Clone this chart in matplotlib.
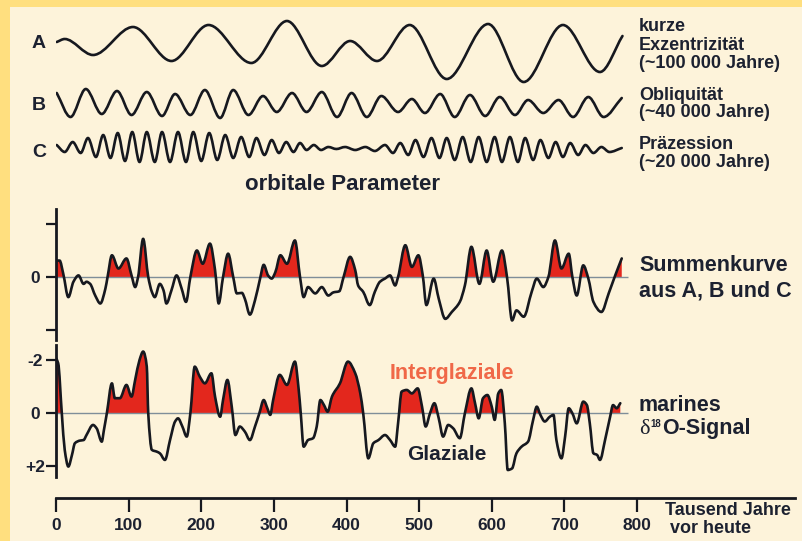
import numpy as np
import matplotlib
matplotlib.use("Agg")
import matplotlib.pyplot as plt
from matplotlib.path import Path
from matplotlib.patches import PathPatch, Rectangle

plt.rcParams['font.family'] = ['Liberation Sans', 'DejaVu Sans']
plt.rcParams['font.weight'] = 'bold'

# ---- data (x in thousand years before present) ----
# A: short eccentricity (turning points)
a_kyr = [1, 12, 51, 106, 159, 210, 269, 318, 366, 405, 442, 487, 538, 595, 644, 698, 749, 780]
a_val = [3, 6, -10, 18, -16, 20, -18, 24, -21, 4, -16, 20, -34, 21, -37, 20, -27, 9]

# B: obliquity
b_kyr = [1, 20, 41, 63, 84, 104, 125, 146, 164, 185,
         205, 226, 244, 265, 285, 304, 325, 345, 366, 387,
         407, 428, 448, 471, 490, 508, 529, 549, 570, 591,
         611, 632, 650, 671, 692, 712, 733, 754, 779]
b_val = [11, -13, 15, -10, 13, -11, 12, -12, 10, -11,
         14, -14, 14, -11, 8, -8, 11, -8, 12, -13,
         11, -13, 8, -8, 5, -9, 10, -13, 9, -12,
         7, -11, 4, -9, 4, -13, 7, -13, 6]

# C: precession
c_kyr = [1, 12, 23, 34, 44, 55, 65, 75, 85, 95,
         105, 115, 125, 136, 146, 157, 168, 179, 189, 200,
         211, 222, 233, 244, 255, 266, 276, 287, 297, 307,
         317, 327, 336, 345, 355, 365, 375, 386, 398, 412,
         426, 439, 453, 464, 474, 485, 495, 506, 517, 528,
         538, 549, 560, 571, 582, 593, 604, 614, 625, 636,
         646, 657, 667, 678, 688, 698, 708, 719, 729, 740,
         751, 762, 779]
c_val = [3, -4, 6, -5, 10, -9, 13, -10, 15, -13,
         16, -14, 16, -14, 16, -14, 16, -14, 16, -13,
         15, -12, 13, -10, 11, -9, 10, -7, 8, -5,
         6, -4, 5, -2, 3, -2, 1, -1, 1, -2,
         1, -3, 3, -5, 5, -7, 8, -9, 10, -10,
         10, -12, 11, -14, 11, -14, 11, -14, 11, -14,
         10, -12, 8, -10, 6, -9, 5, -7, 3, -5,
         1, -4, 0]

# Summenkurve aus A, B und C
s_kyr = [0, 5, 10, 17, 24, 31, 38, 42, 47, 54,
         61, 68, 71, 77, 86, 97, 104, 109, 113, 120,
         127, 132, 136, 143, 148, 152, 159, 166, 173, 179,
         185, 194, 202, 212, 219, 224, 230, 237, 244, 249,
         256, 260, 267, 274, 281, 286, 292, 297, 302, 309,
         318, 329, 336, 341, 347, 357, 366, 375, 382, 390,
         396, 405, 412, 416, 423, 432, 439, 446, 453, 460,
         467, 471, 481, 490, 499, 505, 510, 520, 527, 536,
         545, 556, 563, 572, 583, 593, 602, 614, 621, 628,
         634, 644, 655, 662, 671, 678, 687, 696, 706, 711,
         717, 726, 733, 740, 751, 761, 770, 779]
s_val = [0.31, 0.31, 0.06, -0.38, -0.09, 0.03, -0.13, -0.09, -0.13, -0.35,
         -0.50, -0.22, 0, 0.41, 0.16, 0.35, 0.03, -0.19, 0, 0.72,
         0, -0.28, -0.38, -0.13, -0.25, -0.50, -0.25, 0.03, -0.22, -0.47,
         0, 0.50, 0.25, 0.63, 0.13, -0.50, 0, 0.44, 0, -0.31,
         -0.30, -0.41, -0.71, -0.44, -0.03, 0.23, 0.03, -0.03, 0.09, 0.41,
         0.25, 0.69, 0, -0.38, -0.19, -0.31, -0.19, -0.35, -0.29, -0.27,
         0, 0.38, 0.13, -0.16, -0.28, -0.53, -0.28, -0.09, -0.03, 0.03,
         -0.16, 0, 0.60, 0.19, 0.41, 0.03, -0.53, -0.03, -0.41, -0.79,
         -0.66, -0.47, -0.16, 0.57, -0.13, 0.50, -0.09, 0.50, 0, -0.82,
         -0.63, -0.75, -0.28, -0.03, -0.19, 0, 0.69, 0.16, 0.44, 0,
         -0.35, 0.22, -0.03, -0.47, -0.66, -0.31, 0.03, 0.35]

# marines d18O-Signal (negative = warm / Interglaziale)
d_kyr = [0, 3, 8, 12, 17, 22, 26, 33, 38, 42,
         51, 56, 63, 66, 70, 77, 81, 88, 97, 104,
         109, 115, 120, 125, 127, 132, 139, 143, 150, 157,
         164, 168, 174, 180, 185, 191, 198, 205, 214, 219,
         226, 230, 236, 242, 247, 253, 260, 267, 274, 280,
         286, 291, 295, 299, 308, 318, 329, 334, 337, 341,
         347, 354, 359, 364, 369, 374, 380, 391, 402, 412,
         419, 423, 430, 437, 444, 453, 460, 467, 471, 476,
         483, 490, 498, 504, 509, 515, 521, 527, 533, 540,
         547, 556, 563, 572, 577, 582, 588, 594, 600, 604,
         609, 613, 618, 622, 628, 634, 641, 650, 657, 662,
         667, 673, 680, 685, 689, 696, 701, 706, 711, 717,
         726, 731, 735, 740, 745, 749, 756, 763, 767, 772,
         777]
d_val = [-2.08, -1.89, 0, 1.38, 2.01, 1.57, 1.13, 1.03, 1.01, 0.82,
         0.44, 0.57, 1.07, 0.63, 0, -1.13, -0.57, -0.57, -1.07, -0.63,
         -1.26, -2.01, -2.33, -1.76, 0, 1.38, 1.45, 1.51, 1.76, 1.01,
         0.31, 0.19, 0.50, 0.88, 0, -1.76, -1.38, -1.13, -1.51, -0.63,
         0.13, -0.50, -1.26, -0.25, 0.82, 0.50, 0.69, 1.01, 0.50, 0,
         -0.50, -0.19, 0.06, -0.50, -1.45, -1.07, -1.95, -0.94, 0, 1.26,
         1.01, 0.94, 0.50, -0.50, -0.31, -0.06, -0.63, -1.13, -1.95, -1.51,
         -0.75, 0, 1.70, 1.13, 1.01, 0.82, 1.01, 1.26, 0.38, -0.82,
         -0.88, -0.75, -0.94, -0.25, 0.50, 0, -0.38, 0.19, 0.88, 0.44,
         0.57, 0.94, 0, -0.94, -0.38, 0.19, -0.57, -0.69, -0.25, 0.25,
         -0.75, -0.88, 0.38, 2.14, 2.08, 1.51, 1.26, 1.07, 0.25, -0.25,
         0.06, 0.31, 0.13, 0.06, 1.01, 1.70, 0.88, -0.19, 0, 0.38,
         -0.44, -0.31, 0.38, 1.51, 1.57, 1.76, 1.01, 0.13, -0.31, -0.19,
         -0.38]

x_ticks = [0, 100, 200, 300, 400, 500, 600, 700, 800]
mid_ticks = [-1, 0, 1]
mid_tick_labels = ['', '0', '']
bot_ticks = [-2, 0, 2]
bot_tick_labels = ['-2', '0', '+2']
zero_end = 787

# ---- layout / colours ----
W, H = 802, 541
ink = '#16181f'
txt = '#1c2130'
red = '#e3271d'
zero_col = '#7f8e99'
cream = '#fdf3da'
yellow = '#ffdf7f'
x_max = 800 * (795 - 56) / (637 - 56)


def px_rect(x0, y0, x1, y1):
    return [x0 / W, 1 - y1 / H, (x1 - x0) / W, (y1 - y0) / H]


def smooth_path(xs, ys, close_to=None):
    # monotone cubic through the read points, drawn as bezier segments
    x = np.asarray(xs, float)
    y = np.asarray(ys, float)
    h = np.diff(x)
    d = np.diff(y) / h
    m = np.zeros_like(y)
    m[0], m[-1] = d[0], d[-1]
    for k in range(1, len(x) - 1):
        if d[k - 1] * d[k] > 0:
            w1 = 2 * h[k] + h[k - 1]
            w2 = h[k] + 2 * h[k - 1]
            m[k] = (w1 + w2) / (w1 / d[k - 1] + w2 / d[k])
    verts = [(x[0], y[0])]
    codes = [Path.MOVETO]
    for k in range(len(x) - 1):
        verts += [(x[k] + h[k] / 3, y[k] + m[k] * h[k] / 3),
                  (x[k + 1] - h[k] / 3, y[k + 1] - m[k + 1] * h[k] / 3),
                  (x[k + 1], y[k + 1])]
        codes += [Path.CURVE4] * 3
    if close_to is not None:
        verts += [(x[-1], close_to), (x[0], close_to), (x[0], y[0])]
        codes += [Path.LINETO, Path.LINETO, Path.CLOSEPOLY]
    return Path(verts, codes)


def draw_curve(ax, x, y, lw=1.9):
    ax.add_patch(PathPatch(smooth_path(x, y), facecolor='none', edgecolor=ink,
                           lw=lw, joinstyle='round', capstyle='round', zorder=3))


def fill_warm(ax, x, y, lo, hi):
    # red only on the warm side of the zero line
    patch = PathPatch(smooth_path(x, y, close_to=0), facecolor=red,
                      edgecolor='none', zorder=1)
    ax.add_patch(patch)
    patch.set_clip_path(Rectangle((0, lo), x_max, hi - lo, transform=ax.transData))


def label(x, y, s, size=13, **kw):
    kw.setdefault('color', txt)
    fig.text(x / W, 1 - y / H, s, fontsize=size, va='baseline', ha='left', **kw)


fig = plt.figure(figsize=(W / 100, H / 100), dpi=100, facecolor=yellow)
fig.add_artist(Rectangle((10 / W, 0), 1, 1 - 7 / H, transform=fig.transFigure,
                         facecolor=cream, edgecolor='none', zorder=0))

# ---- orbital parameters ----
ax_top = fig.add_axes(px_rect(56, 8, 795, 200))
ax_top.set_xlim(0, x_max)
ax_top.set_ylim(0, 192)
ax_top.axis('off')
draw_curve(ax_top, a_kyr, np.array(a_val) + 155)
draw_curve(ax_top, b_kyr, np.array(b_val) + 96)
draw_curve(ax_top, c_kyr, np.array(c_val) + 52)

# ---- Summenkurve ----
ax_mid = fig.add_axes(px_rect(56, 209, 795, 340))
ax_mid.set_xlim(0, x_max)
ax_mid.set_ylim(-1.189, 1.283)
fill_warm(ax_mid, s_kyr, s_val, 0, 2)
ax_mid.hlines(0, 0, zero_end, color=zero_col, lw=1, zorder=2)
draw_curve(ax_mid, s_kyr, s_val)

# ---- d18O (axis inverted: warm is up) ----
ax_bot = fig.add_axes(px_rect(56, 345, 795, 477))
ax_bot.set_xlim(0, x_max)
ax_bot.set_ylim(2.404, -2.577)
fill_warm(ax_bot, d_kyr, d_val, -3, 0)
ax_bot.hlines(0, 0, zero_end, color=zero_col, lw=1, zorder=2)
draw_curve(ax_bot, d_kyr, d_val)

for ax in (ax_mid, ax_bot):
    ax.set_facecolor('none')
    ax.spines['top'].set_visible(False)
    ax.spines['right'].set_visible(False)
    ax.spines['left'].set_linewidth(2)
    ax.spines['left'].set_color(ink)
    ax.tick_params(axis='y', length=7, width=1.6, color=ink, labelsize=12.5,
                   labelcolor=txt, pad=8)

ax_mid.spines['bottom'].set_visible(False)
ax_mid.set_xticks([])
ax_mid.set_yticks(mid_ticks)
ax_mid.set_yticklabels(mid_tick_labels)

ax_bot.set_yticks(bot_ticks)
ax_bot.set_yticklabels(bot_tick_labels)
ax_bot.spines['bottom'].set_position(('outward', 15))
ax_bot.spines['bottom'].set_linewidth(2)
ax_bot.spines['bottom'].set_color(ink)
ax_bot.set_xticks(x_ticks)
ax_bot.tick_params(axis='x', length=10, width=1.6, color=ink, labelsize=12.5,
                   labelcolor=txt, pad=4.5)

for ax in (ax_mid, ax_bot):
    for lab in ax.get_yticklabels():
        lab.set_horizontalalignment('center')

# ---- texts ----
label(32, 48, 'A', 14)
label(32, 110, 'B', 14)
label(32, 157, 'C', 14)
label(639, 31, 'kurze')
label(639, 50, 'Exzentrizität')
label(639, 68, '(~100 000 Jahre)')
label(639, 100, 'Obliquität')
label(639, 117, '(~40 000 Jahre)')
label(639, 149, 'Präzession')
label(639, 167, '(~20 000 Jahre)')
label(245, 190, 'orbitale Parameter', 16)

label(639, 271, 'Summenkurve', 15.5)
label(639, 296, 'aus A, B und C', 15.5)

label(639, 411, 'marines', 15.5)
label(639, 434, 'δ', 16, family='Liberation Serif', fontweight='normal')
label(650, 427, '18', 7)
label(662, 434, 'O-Signal', 15.5)

label(390, 379, 'Interglaziale', 15.5, color='#f06848')
label(407, 460, 'Glaziale', 15)

label(665, 515, 'Tausend Jahre', 13)
label(670, 533, 'vor heute', 13)

fig.savefig('out.png', dpi=100, facecolor=fig.get_facecolor())
